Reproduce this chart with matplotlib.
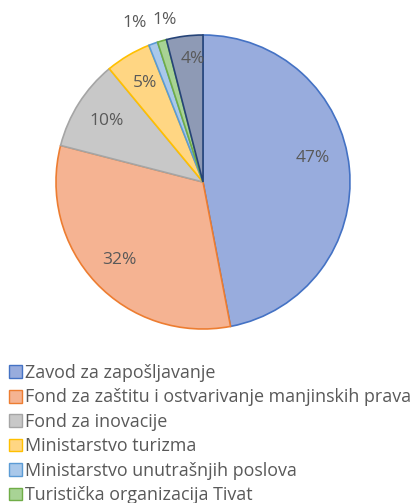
import numpy as np
import matplotlib.pyplot as plt
from matplotlib.patches import Patch

# udjeli po izvoru finansiranja (%)
kategorije = ["Zavod za zapošljavanje",
              "Fond za zaštitu i ostvarivanje manjinskih prava",
              "Fond za inovacije",
              "Ministarstvo turizma",
              "Ministarstvo unutrašnjih poslova",
              "Turistička organizacija Tivat",
              "Ostalo"]
udjeli = [47, 32, 10, 5, 1, 1, 4]

boje = ["#98ACDD", "#F5B392", "#C8C8C8", "#FFD683", "#A9C8EA", "#A8D395", "#8E9AB5"]
ivice = ["#4472C4", "#ED7D31", "#A5A5A5", "#FFC000", "#5B9BD5", "#70AD47", "#264478"]

plt.rcParams['font.family'] = ['Open Sans', 'DejaVu Sans']

fig = plt.figure(figsize=(4.13, 5.03), dpi=100)
ax = fig.add_axes([56 / 413, 174 / 503, 294 / 413, 294 / 503])

wedges, texts, autotexts = ax.pie(udjeli, colors=boje, startangle=90, counterclock=False,
                                  autopct="%d%%", pctdistance=0.78,
                                  wedgeprops=dict(linewidth=1.2),
                                  textprops=dict(color="#595959", fontsize=12.5))
for w, e in zip(wedges, ivice):
    w.set_edgecolor(e)

# male kriske: natpis izvan kruga
pomak = {4: (3.5, 1.18), 5: (-3.0, 1.13)}
for i, (dth, r) in pomak.items():
    w = wedges[i]
    th = np.deg2rad((w.theta1 + w.theta2) / 2 + dth)
    autotexts[i].set_position((r * np.cos(th), r * np.sin(th)))
autotexts[6].set_position((-0.07, 0.84))
autotexts[0].set_position((0.75, 0.16))

ax.set_xlim(-1, 1)
ax.set_ylim(-1, 1)
ax.set_aspect('equal')

handles = [Patch(facecolor=boje[i], edgecolor=ivice[i], linewidth=1) for i in range(6)]
leg = fig.legend(handles, kategorije[:6], loc="upper left", bbox_to_anchor=(9 / 413, 1 - 364 / 503),
                 frameon=False, fontsize=12.9, handlelength=0.72, handleheight=0.72,
                 handletextpad=0.2, labelspacing=0.36, borderpad=0, borderaxespad=0)
for t in leg.get_texts():
    t.set_color("#595959")

fig.savefig("out.png", dpi=100)
